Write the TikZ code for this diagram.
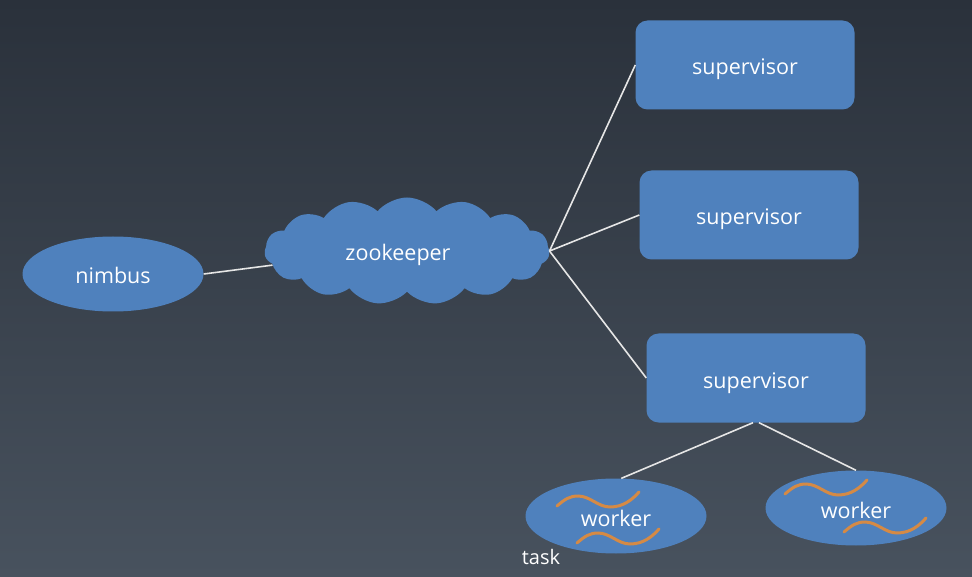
\documentclass[tikz,border=0pt]{standalone}
\usepackage{fontspec}
\setmainfont{Open Sans}
\usetikzlibrary{shapes.geometric,shapes.symbols}

\definecolor{bgtop}{HTML}{2A313B}
\definecolor{bgbot}{HTML}{48525E}
\definecolor{nodeblue}{HTML}{4F81BD}
\definecolor{taskorange}{HTML}{D58A45}
\definecolor{linkgray}{HTML}{E6E6E6}

\tikzset{
  box/.style={fill=nodeblue, text=white, font=\fontsize{21.5}{26}\selectfont,
    text height=20pt, text depth=0pt},
  sup/.style={box, rectangle, rounded corners=12pt, minimum width=219pt, minimum height=89pt},
  wrk/.style={box, ellipse, minimum width=181pt, minimum height=75pt, inner sep=0pt},
  zk/.style={box, cloud, cloud puffs=15, cloud puff arc=100, cloud ignores aspect,
    minimum width=285pt, minimum height=107pt},
  link/.style={draw=linkgray, line width=1.6pt},
  lbl/.style={text=white, font=\fontsize{20}{24}\selectfont},
  squiggle/.pic={
    \draw[taskorange, line width=3pt, line cap=round]
      (0,0) .. controls (8,-7) and (13,-10) .. (21,-10)
            .. controls (33,-10) and (41,1) .. (53,1)
            .. controls (66,1) and (75,-6) .. (82,-14);
  }
}

\begin{document}
\begin{tikzpicture}[x=1pt, y=-1pt]

% Background
\shade[top color=bgtop, bottom color=bgbot] (0,0) rectangle (972,577);
\useasboundingbox (0,0) rectangle (972,577);

% Define nodes
\node[box, ellipse, minimum width=181pt, minimum height=75pt, inner sep=0pt]
                              (nimbus) at (113,274) {nimbus};
\node[zk]                     (zk)     at (407,251) {zookeeper\hspace*{18pt}};
\node[sup]                    (sup1)   at (745,65)  {supervisor};
\node[sup]                    (sup2)   at (749,215) {supervisor};
\node[sup]                    (sup3)   at (756,378) {supervisor};
\node[wrk]                    (w1)     at (616,516) {worker};
\node[wrk]                    (w2)     at (856,508) {worker};
\node[lbl]                    (task)   at (541,557) {task};

% Tasks inside the workers
\pic at (557,506) {squiggle};
\pic at (577,543) {squiggle};
\pic at (785,494) {squiggle};
\pic at (844,532) {squiggle};

% Connect the nodes
\draw[link] (nimbus.east) -- (zk.186);
\foreach \s in {sup1,sup2,sup3}
  \draw[link] (zk.east) -- (\s.west);
\draw[link] ([xshift=-3pt]sup3.south) -- (w1.82);
\draw[link] ([xshift=3pt]sup3.south) -- (w2.north);

\end{tikzpicture}
\end{document}
